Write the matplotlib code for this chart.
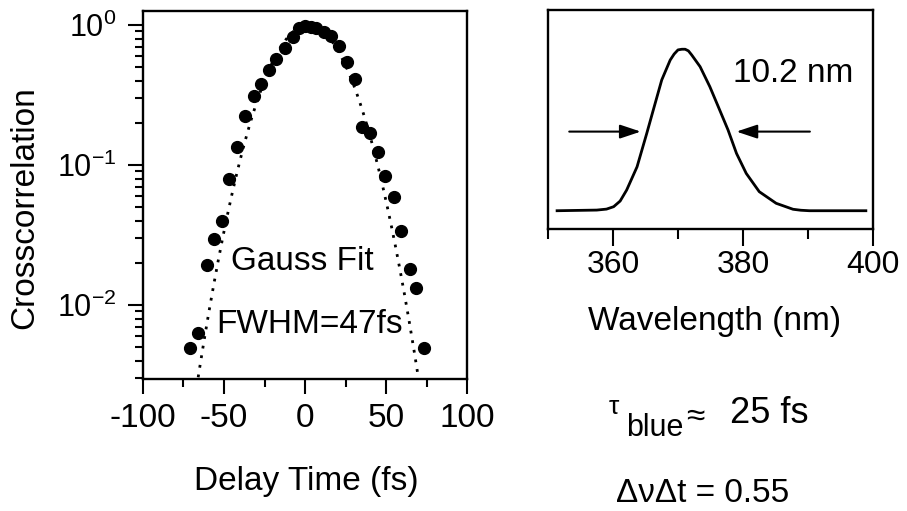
import numpy as np
import matplotlib
matplotlib.use("Agg")
import matplotlib.pyplot as plt
from matplotlib.ticker import LogLocator, MultipleLocator, NullFormatter

plt.rcParams['font.family'] = ['Liberation Sans', 'DejaVu Sans']
plt.rcParams['mathtext.fontset'] = 'custom'
plt.rcParams['mathtext.rm'] = 'Liberation Sans'
plt.rcParams['mathtext.it'] = 'Liberation Sans:italic'
plt.rcParams['axes.unicode_minus'] = False

# crosscorrelation of the blue pulse (delay in fs, normalised signal)
delay = [-71.2, -66.0, -60.5, -56.0, -51.2, -46.7, -42.0, -36.8, -31.7, -27.2,
         -22.4, -17.7, -12.5, -7.6, -3.5, 0.2, 3.9, 7.0, 11.5, 16.2,
         21.2, 25.9, 31.0, 35.2, 40.3, 45.0, 49.6, 54.7, 59.5, 64.6,
         68.7, 73.3]
xcorr = [0.0049, 0.0063, 0.0193, 0.0295, 0.040, 0.079, 0.135, 0.224, 0.311, 0.377,
         0.477, 0.569, 0.689, 0.826, 0.96, 0.98, 0.97, 0.95, 0.887, 0.834,
         0.708, 0.541, 0.41, 0.188, 0.17, 0.124, 0.084, 0.059, 0.034, 0.018,
         0.0132, 0.00495]

# Gauss fit of the trace
fit_fwhm = 47.0
fit_center = 2.0

# spectrum of the blue pulse
wavelength = [351.4, 357.5, 359.0, 360.1, 361.1, 362.1, 363.7, 365.2, 366.2, 367.5,
              368.8, 369.4, 370.0, 370.6, 371.1, 371.6, 372.1, 373.4, 374.9, 376.2,
              377.7, 379.0, 380.5, 382.5, 385.1, 387.7, 388.9, 390.2, 398.9]
spectrum = [0.0, 0.004, 0.01, 0.025, 0.06, 0.128, 0.272, 0.48, 0.624, 0.810,
            0.933, 0.97, 0.996, 1.0, 1.0, 0.99, 0.965, 0.892, 0.768, 0.644,
            0.50, 0.355, 0.231, 0.118, 0.046, 0.009, 0.003, 0.0, 0.0]
spec_fwhm = 10.2

W, H = 907, 511


def fx(px):
    return px / W


def fy(py):
    return 1 - py / H


fig = plt.figure(figsize=(W / 100, H / 100), dpi=100)

# left panel: crosscorrelation on log scale
ax1 = fig.add_axes([fx(143), fy(379), fx(324), 368 / H])
ax1.plot(delay, xcorr, 'o', color='k', ms=8.5)
t = np.linspace(-100, 100, 801)
gauss = np.exp(-4 * np.log(2) * ((t - fit_center) / fit_fwhm) ** 2)
ax1.plot(t, gauss, color='k', lw=2, linestyle=(0, (1, 2.5)))
ax1.set_yscale('log')
ax1.set_xlim(-100, 100)
ax1.set_ylim(0.00296, 1.26)
ax1.xaxis.set_major_locator(MultipleLocator(50))
ax1.xaxis.set_minor_locator(MultipleLocator(25))
ax1.yaxis.set_major_locator(LogLocator(base=10, numticks=10))
ax1.yaxis.set_minor_locator(LogLocator(base=10, subs=np.arange(2, 10), numticks=10))
ax1.yaxis.set_minor_formatter(NullFormatter())
ax1.tick_params(which='major', direction='out', length=11, width=1.5)
ax1.tick_params(which='minor', direction='out', length=6, width=1.5)
ax1.tick_params(axis='x', labelsize=24, pad=6)
ax1.tick_params(axis='y', labelsize=22, pad=8)
for sp in ax1.spines.values():
    sp.set_linewidth(1.7)

ax1.text(0.492, 0.296, 'Gauss Fit', transform=ax1.transAxes,
         ha='center', va='baseline', fontsize=24)
ax1.text(0.515, 0.125, 'FWHM=%dfs' % fit_fwhm, transform=ax1.transAxes,
         ha='center', va='baseline', fontsize=24)

fig.text(fx(306), fy(490), 'Delay Time (fs)', ha='center', va='baseline', fontsize=24)
fig.text(fx(33), fy(208), 'Crosscorrelation', ha='center', va='baseline',
         rotation=90, rotation_mode='anchor', fontsize=24)

# right panel: spectrum
ax2 = fig.add_axes([fx(548), fy(229.3), fx(325), 219.3 / H])
ax2.plot(wavelength, spectrum, color='k', lw=2, solid_joinstyle='round')
ax2.set_xlim(350, 400)
ax2.set_ylim(-0.115, 1.243)
ax2.set_yticks([])
ax2.set_xticks([360, 380, 400])
ax2.xaxis.set_minor_locator(MultipleLocator(10))
ax2.tick_params(which='major', direction='out', length=12, width=1.5, labelsize=23, pad=3)
ax2.tick_params(which='minor', direction='out', length=7, width=1.5)
for sp in ax2.spines.values():
    sp.set_linewidth(1.7)

# arrows marking the half maximum
half = 0.49
wl = np.array(wavelength)
sp_arr = np.array(spectrum)
ipk = int(np.argmax(sp_arr))
left_x = np.interp(half, sp_arr[:ipk + 1], wl[:ipk + 1])
right_x = np.interp(half, sp_arr[ipk:][::-1], wl[ipk:][::-1])
arr = dict(arrowstyle='-|>,head_length=0.45,head_width=0.15', color='k', lw=1.5,
           mutation_scale=28, shrinkA=0, shrinkB=0)
ax2.annotate('', xy=(left_x - 1.0, half), xytext=(left_x - 12.0, half), arrowprops=arr)
ax2.annotate('', xy=(right_x + 1.2, half), xytext=(right_x + 12.5, half), arrowprops=arr)
ax2.text(0.570, 0.673, '%.1f nm' % spec_fwhm, transform=ax2.transAxes,
         ha='left', va='baseline', fontsize=24)

fig.text(fx(715), fy(330), 'Wavelength (nm)', ha='center', va='baseline', fontsize=24)

# pulse duration and time-bandwidth product
fig.text(fx(609), fy(414), 'τ', ha='left', va='baseline', fontsize=19)
fig.text(fx(626), fy(436), 'blue', ha='left', va='baseline', fontsize=22)
fig.text(fx(686), fy(426), '≈', ha='left', va='baseline', fontsize=24)
fig.text(fx(730), fy(423), '25 fs', ha='left', va='baseline', fontsize=26)
fig.text(fx(703), fy(502), 'ΔνΔt = 0.55', ha='center', va='baseline', fontsize=24)

fig.savefig('out.png', dpi=100)
